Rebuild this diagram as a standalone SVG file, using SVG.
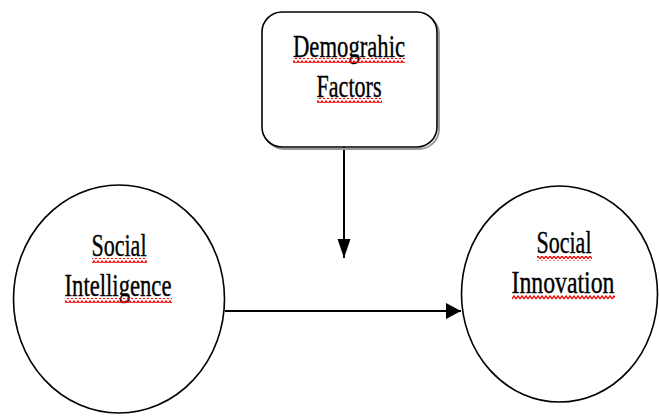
<svg xmlns="http://www.w3.org/2000/svg" width="659" height="416" viewBox="0 0 659 416">
<defs>
<style>
.shape{fill:#fff;stroke:#000;stroke-width:1.6}
.lbl{font-family:"Liberation Serif","DejaVu Serif",serif;font-size:31px;fill:#000;stroke:#000;stroke-width:0.35;text-anchor:middle}
.conn{stroke:#000;stroke-width:2;fill:none}
.wave{fill:url(#wave)}
</style>
<pattern id="wave" patternUnits="userSpaceOnUse" width="4" height="5">
<path d="M0,4 L2,1 L4,4" fill="none" stroke="#e00" stroke-width="1.3"/>
</pattern>
<marker id="ahv" markerWidth="20" markerHeight="14" refX="19" refY="6.5" orient="auto" markerUnits="userSpaceOnUse">
<path d="M0,0 L19,6.5 L0,13 Z" fill="#000"/>
</marker>
<marker id="ahh" markerWidth="16" markerHeight="18" refX="15" refY="8" orient="auto" markerUnits="userSpaceOnUse">
<path d="M0,0 L15,8 L0,16 Z" fill="#000"/>
</marker>
</defs>
<rect width="659" height="416" fill="#fff"/>
<g id="connectors">
<line class="conn" x1="344" y1="147" x2="344" y2="258" marker-end="url(#ahv)"/>
<line class="conn" x1="225" y1="311" x2="461" y2="311" marker-end="url(#ahh)"/>
</g>
<g id="demographic-factors">
<rect x="264" y="14" width="175" height="135" rx="20" fill="none" stroke="#999" stroke-width="2"/>
<rect class="shape" x="262" y="12" width="175" height="135" rx="20"/>
<text class="lbl" x="349" y="57" textLength="112" lengthAdjust="spacingAndGlyphs">Demograhic</text>
<rect class="wave" x="293" y="58" width="112" height="5"/>
<text class="lbl" x="349" y="97" textLength="65" lengthAdjust="spacingAndGlyphs">Factors</text>
<rect class="wave" x="317" y="98" width="65" height="5"/>
</g>
<g id="social-intelligence">
<ellipse class="shape" cx="119" cy="299" rx="105.5" ry="114"/>
<text class="lbl" x="119" y="256" textLength="55" lengthAdjust="spacingAndGlyphs">Social</text>
<rect class="wave" x="92" y="258" width="55" height="5"/>
<text class="lbl" x="118" y="296" textLength="107" lengthAdjust="spacingAndGlyphs">Intelligence</text>
<rect class="wave" x="65" y="298" width="107" height="5"/>
</g>
<g id="social-innovation">
<ellipse class="shape" cx="559.5" cy="294" rx="98" ry="108"/>
<text class="lbl" x="564" y="253" textLength="55" lengthAdjust="spacingAndGlyphs">Social</text>
<rect class="wave" x="537" y="256" width="55" height="5"/>
<text class="lbl" x="563" y="293" textLength="103" lengthAdjust="spacingAndGlyphs">Innovation</text>
<rect class="wave" x="512" y="295" width="103" height="5"/>
</g>
</svg>
